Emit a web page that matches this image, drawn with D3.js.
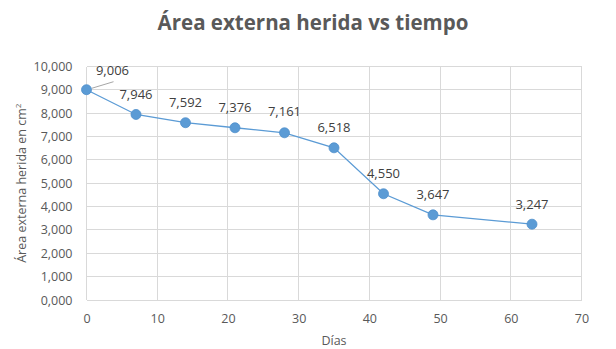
<!DOCTYPE html>
<html><head><meta charset="utf-8">
<script src="https://cdn.jsdelivr.net/npm/d3@7"></script>
<style>body{margin:0;background:#fff;} text{font-family:"Open Sans",sans-serif;}</style>
</head><body>
<svg id="c" width="616" height="349"></svg>
<script>
const dias = [0, 7, 14, 21, 28, 35, 42, 49, 63];
const area = [9006, 7946, 7592, 7376, 7161, 6518, 4550, 3647, 3247];
const xTicks = [0, 10, 20, 30, 40, 50, 60, 70];
const yTicks = [0, 1000, 2000, 3000, 4000, 5000, 6000, 7000, 8000, 9000, 10000];
const yTickLabels = ["0,000","1,000","2,000","3,000","4,000","5,000","6,000","7,000","8,000","9,000","10,000"];
const pointLabels = ["9,006","7,946","7,592","7,376","7,161","6,518","4,550","3,647","3,247"];

const svg = d3.select("#c");
const x = d3.scaleLinear().domain([0,70]).range([86.5,581.5]);
const y = d3.scaleLinear().domain([0,10000]).range([300,66.5]);
const grid = "#d9d9d9", txt = "#595959", blue = "#5b9bd5";

// gridlines
svg.append("g").selectAll("line").data(yTicks).join("line")
  .attr("x1", x(0)).attr("x2", x(70)).attr("y1", d=>y(d)).attr("y2", d=>y(d))
  .attr("stroke", grid).attr("stroke-width",1).attr("shape-rendering","crispEdges");
svg.append("g").selectAll("line").data(xTicks).join("line")
  .attr("y1", y(0)).attr("y2", y(10000)).attr("x1", d=>x(d)).attr("x2", d=>x(d))
  .attr("stroke", grid).attr("stroke-width",1).attr("shape-rendering","crispEdges");

// axes labels via d3 axes
const xa = svg.append("g").attr("transform",`translate(0,${y(0)})`)
  .call(d3.axisBottom(x).tickValues(xTicks).tickSize(0).tickPadding(14).tickFormat(d3.format("d")));
const ya = svg.append("g").attr("transform",`translate(${x(0)},0)`)
  .call(d3.axisLeft(y).tickValues(yTicks).tickSize(0).tickPadding(14).tickFormat((d,i)=>yTickLabels[i]));
[xa,ya].forEach(a=>{a.select(".domain").remove(); a.selectAll("text").attr("fill",txt).style("font-size","12.5px").style("font-family","'Open Sans',sans-serif");});

// line
const line = d3.line().x((d,i)=>x(dias[i])).y(d=>y(d));
svg.append("path").datum(area).attr("d", line).attr("fill","none").attr("stroke",blue).attr("stroke-width",1.3);

// leader line for first label
svg.append("line").attr("x1", x(dias[0])+5.5).attr("y1", y(area[0])-1.5)
  .attr("x2", x(dias[0])+27).attr("y2", y(area[0])-8).attr("stroke","#a6a6a6").attr("stroke-width",1);

// markers
svg.append("g").selectAll("circle").data(area).join("circle")
  .attr("cx",(d,i)=>x(dias[i])).attr("cy", d=>y(d)).attr("r",5)
  .attr("fill",blue).attr("stroke","#4f8fcc").attr("stroke-width",0.8);

// data labels
const offs = [[26,-14.5],[0,-15.5],[0,-15.5],[0,-15.5],[0,-16.5],[0,-15.5],[0,-16],[0,-15.5],[0,-15.5]];
svg.append("g").selectAll("text").data(area).join("text")
  .attr("x",(d,i)=>x(dias[i])+offs[i][0]).attr("y",(d,i)=>y(d)+offs[i][1])
  .attr("text-anchor","middle").attr("fill","#404040").style("font-size","13px")
  .text((d,i)=>pointLabels[i]);

// title
svg.append("text").attr("x",313).attr("y",30).attr("text-anchor","middle")
  .attr("fill",txt).style("font-size","20.5px").style("font-weight","bold").text("Área externa herida vs tiempo");
// axis titles
svg.append("text").attr("x", x(35)).attr("y",345).attr("text-anchor","middle")
  .attr("fill",txt).style("font-size","12.5px").text("Días");
svg.append("text").attr("transform",`translate(26,${y(5000)}) rotate(-90)`).attr("text-anchor","middle")
  .attr("fill",txt).style("font-size","12.5px").html("Área externa herida en cm<tspan dy='-5' font-size='8px'>2</tspan>");
</script>
</body></html>
